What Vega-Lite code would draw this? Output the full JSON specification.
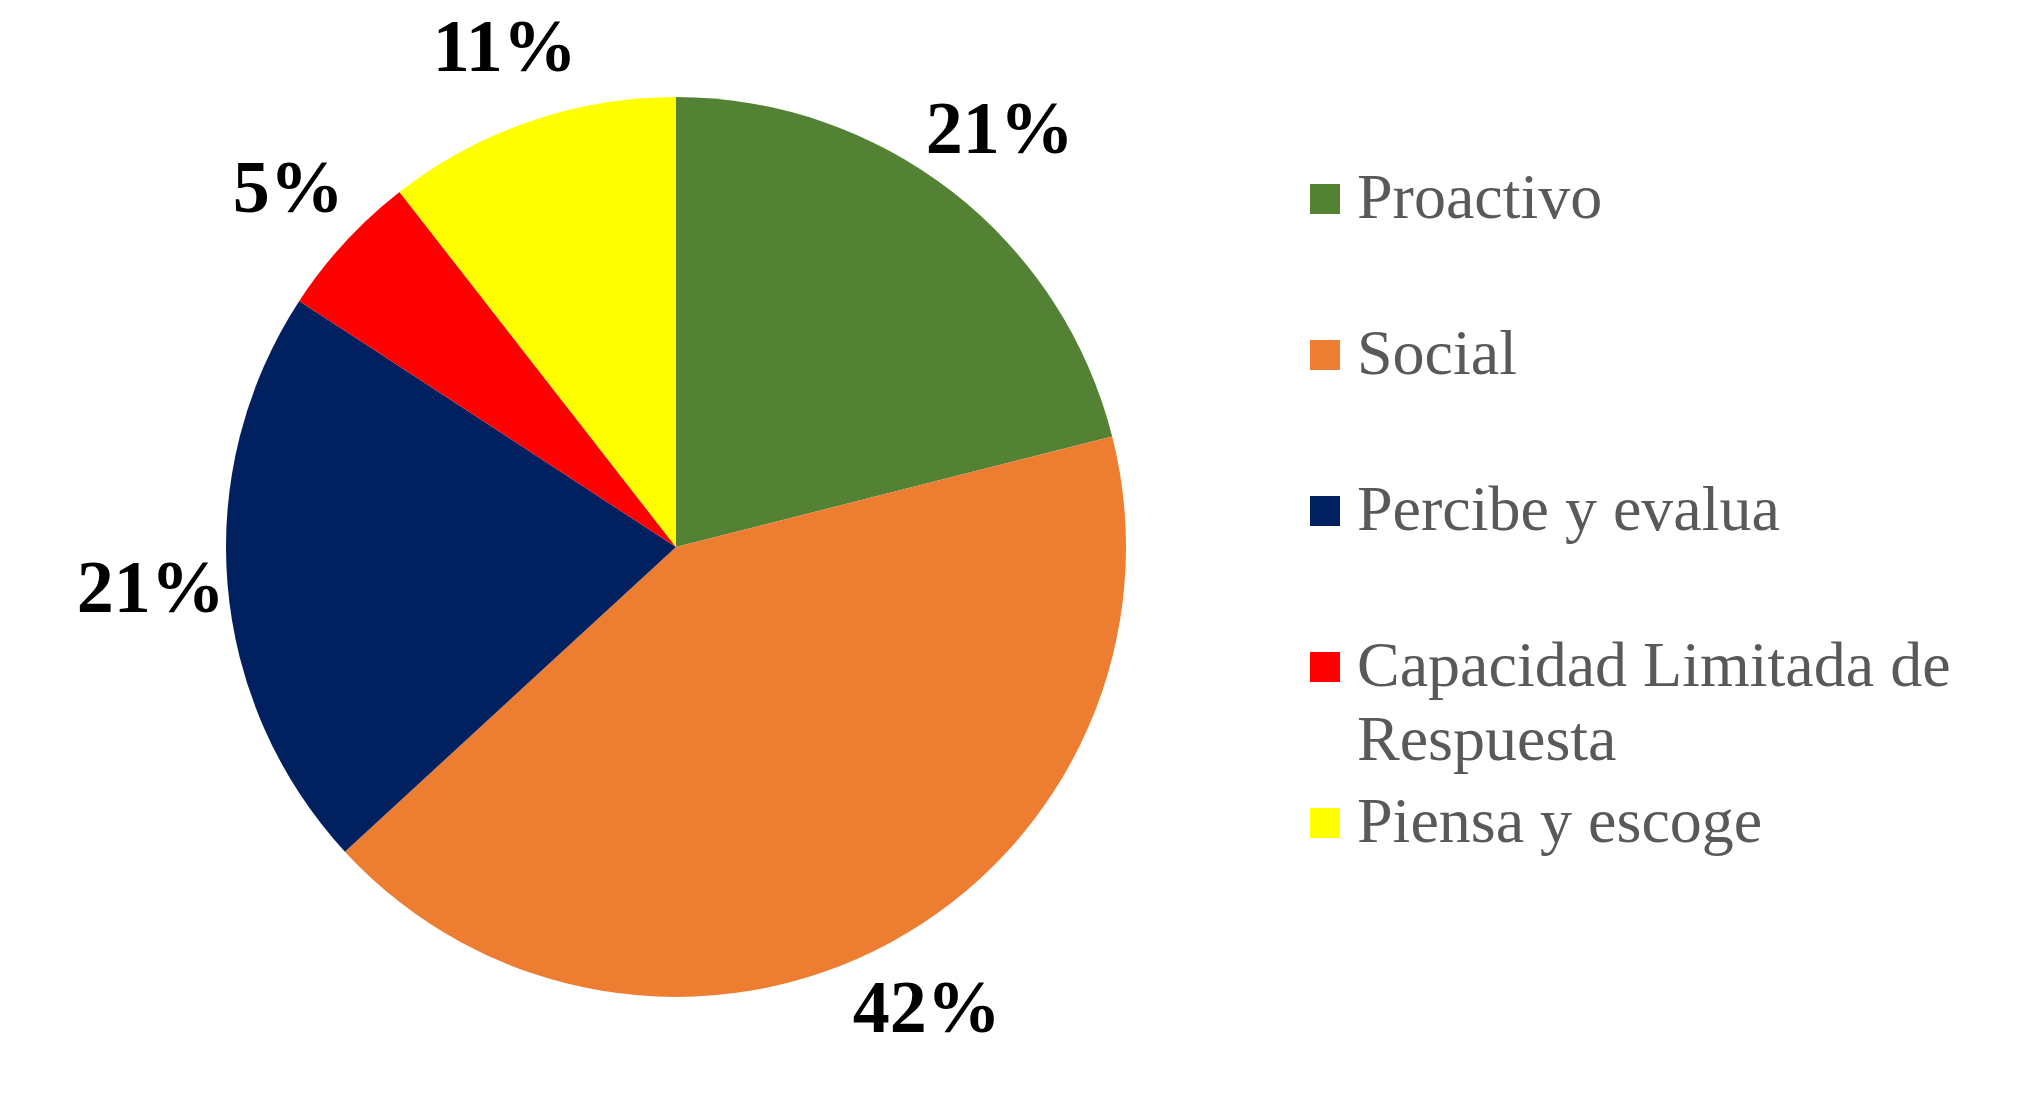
{
  "$schema": "https://vega.github.io/schema/vega-lite/v6.json",
  "width": 2038,
  "height": 1094,
  "autosize": {"type": "none"},
  "padding": 0,
  "background": "white",
  "config": {"view": {"stroke": "#e0e0e0", "strokeWidth": 3}},
  "data": {
    "values": [
      {"categoria": "Proactivo", "porcentaje": 21.05, "etiqueta": "21%", "orden": 1},
      {"categoria": "Social", "porcentaje": 42.11, "etiqueta": "42%", "orden": 2},
      {"categoria": "Percibe y evalua", "porcentaje": 21.05, "etiqueta": "21%", "orden": 3},
      {"categoria": "Capacidad Limitada de Respuesta", "porcentaje": 5.26, "etiqueta": "5%", "orden": 4},
      {"categoria": "Piensa y escoge", "porcentaje": 10.53, "etiqueta": "11%", "orden": 5}
    ]
  },
  "encoding": {
    "theta": {"field": "porcentaje", "type": "quantitative", "stack": true},
    "order": {"field": "orden", "type": "quantitative"}
  },
  "layer": [
    {
      "mark": {"type": "arc", "outerRadius": 450, "xOffset": -343},
      "encoding": {
        "color": {
          "field": "categoria",
          "type": "nominal",
          "scale": {
            "domain": ["Proactivo", "Social", "Percibe y evalua", "Capacidad Limitada de Respuesta", "Piensa y escoge"],
            "range": ["#548235", "#ED7D31", "#002060", "#FF0000", "#FFFF00"]
          },
          "legend": {
            "title": null,
            "orient": "none",
            "legendX": 1293,
            "legendY": 167,
            "direction": "vertical",
            "symbolType": "square",
            "symbolSize": 900,
            "symbolStrokeWidth": 0,
            "rowPadding": 18,
            "labelFont": "Liberation Serif",
            "labelFontSize": 64,
            "labelColor": "#595959",
            "labelOffset": 0,
            "labelLimit": 800,
            "labelExpr": "datum.label == 'Capacidad Limitada de Respuesta' ? ['Capacidad Limitada de', 'Respuesta'] : [datum.label, '']",
            "encode": {
              "labels": {
                "update": {
                  "lineHeight": {"value": 74}
                }
              }
            }
          }
        }
      }
    },
    {
      "mark": {"type": "text", "radius": 527, "xOffset": -343, "font": "Liberation Serif", "fontWeight": "bold", "fontSize": 74, "color": "#000000"},
      "encoding": {
        "text": {"field": "etiqueta", "type": "nominal"}
      }
    }
  ]
}
